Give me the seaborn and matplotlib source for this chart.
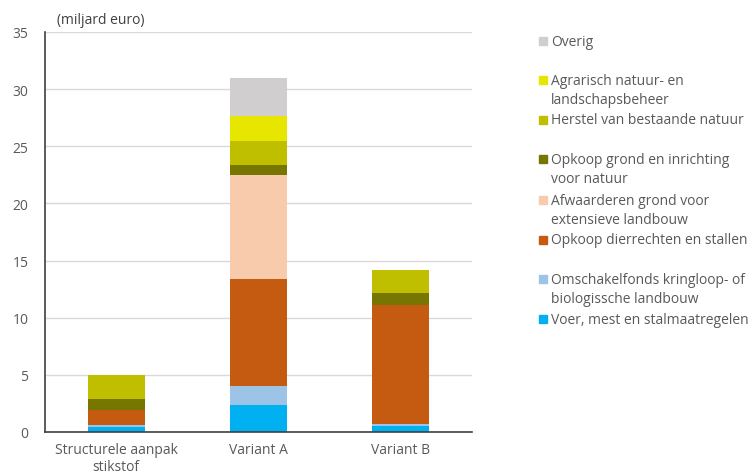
import numpy as np
import pandas as pd
import matplotlib

matplotlib.use("Agg")

import matplotlib.pyplot as plt
import seaborn as sns
from matplotlib.patches import Rectangle

# =====================================
# Data (miljard euro)
# =====================================

scenarios = ["Structurele aanpak\nstikstof", "Variant A", "Variant B"]

# components from bottom to top
components = [
    "Voer, mest en stalmaatregelen",
    "Omschakelfonds kringloop- of\nbiologissche landbouw",
    "Opkoop dierrechten en stallen",
    "Afwaarderen grond voor\nextensieve landbouw",
    "Opkoop grond en inrichting\nvoor natuur",
    "Herstel van bestaande natuur",
    "Agrarisch natuur- en\nlandschapsbeheer",
    "Overig",
]

voer = [0.40, 2.35, 0.55]
omschakel = [0.20, 1.65, 0.15]
dierrechten = [1.30, 9.35, 10.45]
afwaarderen = [0.00, 9.10, 0.00]
opkoop_grond = [1.00, 0.95, 1.00]
herstel = [2.05, 2.05, 2.05]
agrarisch = [0.00, 2.20, 0.00]
overig = [0.00, 3.35, 0.00]

colors = [
    "#00B0F0",
    "#9DC3E6",
    "#C55A11",
    "#F8CBAD",
    "#767600",
    "#BFBF00",
    "#E6E600",
    "#D0CECE",
]

values = [voer, omschakel, dierrechten, afwaarderen,
          opkoop_grond, herstel, agrarisch, overig]

df = pd.DataFrame(np.array(values).T, columns=components)
cum = df[components].cumsum(axis=1)
cum["scenario"] = scenarios

# =====================================
# Plot
# =====================================

sns.set_style("white")
plt.rcParams["font.family"] = ["Open Sans", "DejaVu Sans"]

fig = plt.figure(figsize=(7.49, 4.77), dpi=100)
ax = fig.add_axes([45 / 749, 44 / 477, 427 / 749, 400 / 477])

# stacked bars: draw cumulative totals from the top layer down
for comp, col in zip(reversed(components), reversed(colors)):
    sns.barplot(data=cum, x="scenario", y=comp, color=col, saturation=1,
                width=0.4, linewidth=0, ax=ax, errorbar=None)

ax.set_ylim(0, 35)
ax.set_xlim(-0.5, 2.5)
ax.set_yticks(range(0, 36, 5))
ax.yaxis.grid(True, color="#D9D9D9", linewidth=1)
ax.set_axisbelow(True)
ax.set_xlabel("")
ax.set_ylabel("")
ax.tick_params(axis="both", length=0, labelsize=10, colors="#595959")
ax.tick_params(axis="x", pad=7)
ax.tick_params(axis="y", pad=12)
for lbl in ax.get_xticklabels():
    lbl.set_linespacing(1.2)

for s in ["top", "right"]:
    ax.spines[s].set_visible(False)
ax.spines["left"].set_color("#404040")
ax.spines["bottom"].set_color("#404040")
ax.spines["left"].set_linewidth(1.2)
ax.spines["bottom"].set_linewidth(1.2)

fig.text(57 / 749, 1 - 20 / 477, "(miljard euro)", fontsize=10,
         color="#404040", va="center", ha="left")

# legend, placed like the original
legend_rows = [42, 91, 121, 170, 211, 241, 290, 320]
for comp, col, yc in zip(reversed(components), reversed(colors), legend_rows):
    nlines = comp.count("\n") + 1
    ytop = yc - (nlines - 1) * 10
    fig.patches.append(Rectangle((539 / 749, 1 - (ytop + 4) / 477), 8 / 749, 8 / 477,
                                 transform=fig.transFigure, color=col))
    fig.text(551 / 749, 1 - yc / 477, comp, fontsize=10, color="#595959",
             va="center", ha="left", linespacing=1.45)

plt.savefig("out.png", dpi=100)
plt.close()
